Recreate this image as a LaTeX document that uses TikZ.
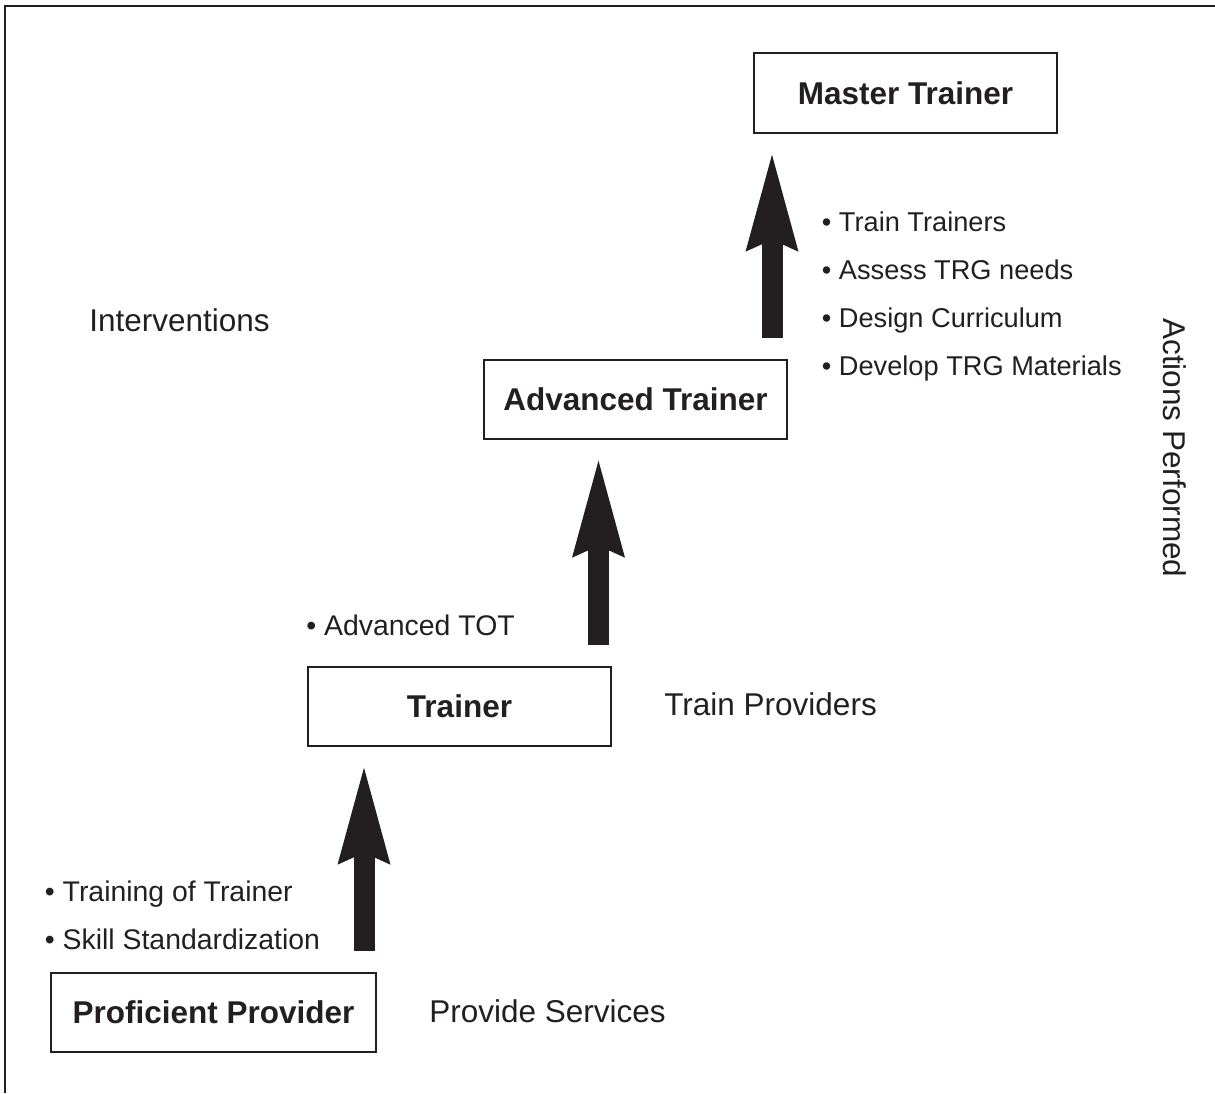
\documentclass[tikz,border=0pt]{standalone}
\usepackage{fontspec}
\setmainfont{Liberation Sans}
\usetikzlibrary{arrows.meta}
\definecolor{ink}{HTML}{231F20}
\tikzset{
    rank box/.style={draw=ink,line width=0.7pt,minimum width=151.5pt,minimum height=39.5pt,
        text=ink,font=\bfseries\fontsize{15.75}{18}\selectfont},
    up arrow/.style={draw=ink,line width=10.5pt,
        -{Stealth[length=48.5pt,width=26.5pt,inset=6pt,line width=0pt]},
        shorten <=10.5pt,shorten >=10.5pt},
    side text/.style={text=ink,inner sep=0pt,anchor=base west,font=\fontsize{15.75}{18}\selectfont},
    bullet text/.style={text=ink,inner sep=0pt,anchor=base west,font=\fontsize{13.6}{16}\selectfont},
    wide bullet/.style={bullet text,font=\fontsize{14.2}{17}\selectfont}
}

\begin{document}
\begin{tikzpicture}[x=0.5pt,y=-0.5pt]
    \useasboundingbox (0,0) rectangle (1215,1093);
    \draw[ink,line width=1pt] (5,1093) -- (5,6) -- (1215,6);

    % the four ranks
    \node[rank box,minimum width=162.5pt] (l0) at (213.5,1012.5) {Proficient Provider};
    \node[rank box] (l1) at (459.5,706.5) {Trainer};
    \node[rank box] (l2) at (635.5,399.5) {Advanced Trainer};
    \node[rank box,minimum height=40pt] (l3) at (905.5,93) {Master Trainer};

    % arrow columns
    \coordinate (a1) at (364,0);
    \coordinate (a2) at (598.5,0);
    \coordinate (a3) at (772,0);
    \draw[up arrow] (l0.north -| a1) -- (l1.south -| a1);
    \draw[up arrow] (l1.north -| a2) -- (l2.south -| a2);
    \draw[up arrow] (l2.north -| a3) -- (l3.south -| a3);

    \node[side text] (iv) at (89,331) {Interventions};
    \node[side text,rotate=-90] (ap) at (1163,318) {Actions Performed};
    \node[side text] (tp) at (664,715) {Train Providers};
    \node[side text] (ps) at (429,1022) {Provide Services};

    \node[bullet text] (m1) at (821.5,231) {• Train Trainers};
    \node[bullet text] (m2) at (821.5,279) {• Assess TRG needs};
    \node[bullet text] (m3) at (821.5,327) {• Design Curriculum};
    \node[bullet text] (m4) at (821.5,375) {• Develop TRG Materials};

    \node[wide bullet] (t1) at (306,635) {• Advanced TOT};

    \node[wide bullet] (p1) at (44.5,901) {• Training of Trainer};
    \node[wide bullet] (p2) at (44.5,949) {• Skill Standardization};
\end{tikzpicture}
\end{document}
